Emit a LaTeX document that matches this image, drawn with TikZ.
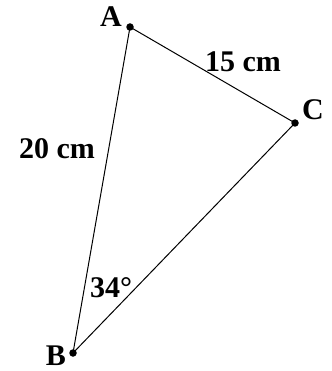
\documentclass[tikz,border=0pt]{standalone}
\usepackage{fontspec}
\setmainfont{Liberation Serif}
\begin{document}
\begin{tikzpicture}[x=1pt,y=-1pt,
  pt/.style={circle,fill=black,inner sep=0pt,minimum size=7.5pt},
  lbl/.style={inner sep=0pt,font=\bfseries\fontsize{30}{33}\selectfont},
  side/.style={line width=1pt}]
\useasboundingbox (0,0) rectangle (331,371);
\node[pt] (A) at (130,27) {};
\node[pt] (C) at (295,123) {};
\node[pt] (B) at (73,353) {};
\draw[side] (A.center) -- (C.center) -- (B.center) -- (A.center);
\node[lbl] (la) at (111,17) {A};
\node[lbl] (lc) at (313,110) {C};
\node[lbl] (lb) at (56,356) {B};
\node[lbl] (l15) at (243,62) {15 cm};
\node[lbl] (l20) at (57,149) {20 cm};
\node[lbl] (l34) at (111,288) {34°};
\end{tikzpicture}
\end{document}
